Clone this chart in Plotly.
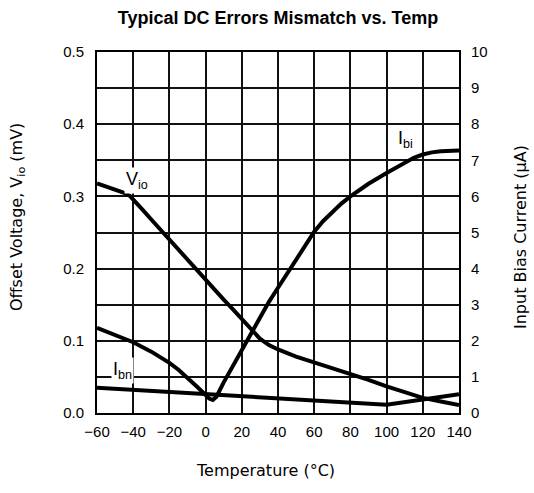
import plotly.graph_objects as go

# ---- data ----
vio_temp = [-60, -55, -50, -45, -42, -40, -35, -30, -25, -20, -15, -10, -5, 0, 5, 10, 15, 20, 25, 30,
            35, 40, 50, 60, 70, 80, 90, 100, 110, 120, 130, 140]
vio_mv = [0.318, 0.314, 0.310, 0.305, 0.301, 0.296, 0.282, 0.268, 0.254, 0.240, 0.226, 0.211, 0.197,
          0.183, 0.170, 0.157, 0.144, 0.131, 0.117, 0.103, 0.094, 0.088, 0.078, 0.070, 0.062, 0.055,
          0.046, 0.037, 0.029, 0.021, 0.016, 0.011]

ibi_temp = [-60, -50, -40, -30, -20, -15, -10, -5, 0, 2, 4, 6, 10, 15, 20, 25, 30, 35, 40, 45, 50, 55,
            60, 65, 70, 75, 80, 90, 100, 110, 115, 120, 125, 130, 140]
ibi_ua = [2.36, 2.17, 1.96, 1.70, 1.39, 1.20, 0.98, 0.74, 0.50, 0.40, 0.36, 0.45, 0.85, 1.30, 1.75,
          2.22, 2.66, 3.08, 3.47, 3.85, 4.22, 4.62, 5.02, 5.32, 5.57, 5.80, 6.00, 6.35, 6.65, 6.93,
          7.07, 7.16, 7.22, 7.25, 7.27]

ibn_temp = [-60, 100, 140]
ibn_ua = [0.70, 0.23, 0.52]

x_ticks = [-60, -40, -20, 0, 20, 40, 60, 80, 100, 120, 140]
left_ticks = [0.0, 0.1, 0.2, 0.3, 0.4, 0.5]
right_ticks = [0, 1, 2, 3, 4, 5, 6, 7, 8, 9, 10]

FONT = "Liberation Sans, Arial, sans-serif"
TITLEFONT = "DejaVu Sans, Liberation Sans, sans-serif"
W, H = 534, 493
L, R, T, B = 97, 75, 52, 80
PW, PH = W - L - R, H - T - B


def px(xp):
    return (xp - L) / PW


def py(yp):
    return (H - B - yp) / PH


fig = go.Figure()
line = dict(color="black", width=4)
fig.add_trace(go.Scatter(x=vio_temp, y=vio_mv, mode="lines", line=line, yaxis="y", showlegend=False))
fig.add_trace(go.Scatter(x=ibi_temp, y=ibi_ua, mode="lines", line=line, yaxis="y2", showlegend=False))
fig.add_trace(go.Scatter(x=ibn_temp, y=ibn_ua, mode="lines", line=line, yaxis="y2", showlegend=False))

fig.update_layout(
    width=W, height=H,
    margin=dict(l=L, r=R, t=T, b=B, autoexpand=False),
    paper_bgcolor="white", plot_bgcolor="white",
    font=dict(family=FONT, size=15, color="black"),
    title=dict(text="<b>Typical DC Errors Mismatch vs. Temp</b>", x=0.5, xref="paper",
               y=1 - 18 / H, yref="container", yanchor="middle", xanchor="center",
               font=dict(family=FONT, size=18, color="black")),
    xaxis=dict(range=[-60, 140], tickvals=x_ticks, showgrid=True, gridcolor="#111", gridwidth=1.5,
               showline=True, mirror=True, linecolor="black", linewidth=2, zeroline=False,
               ticks="", ticklabelstandoff=4, tickfont=dict(size=15)),
    yaxis=dict(range=[0, 0.5], tickvals=left_ticks, tickformat=".1f", showgrid=False,
               showline=True, mirror=True, linecolor="black", linewidth=2, zeroline=False,
               ticks="", ticklabelstandoff=8, tickfont=dict(size=15)),
    yaxis2=dict(range=[0, 10], tickvals=right_ticks, overlaying="y", side="right",
                showgrid=True, gridcolor="#111", gridwidth=1.5, zeroline=False,
                showline=False, ticks="", ticklabelstandoff=11, tickfont=dict(size=15)),
)

annos = [
    dict(text="Offset Voltage, V<sub>io</sub> (mV)", x=px(17), y=py(217), textangle=-90, size=16),
    dict(text="Input Bias Current (μA)", x=px(520), y=py(237), textangle=-90, size=16),
    dict(text="Temperature (°C)", x=px(265), y=py(470), textangle=0, size=16),
]
for a in annos:
    fig.add_annotation(text=a["text"], x=a["x"], y=a["y"], xref="paper", yref="paper",
                       showarrow=False, textangle=a["textangle"], xanchor="center", yanchor="middle",
                       font=dict(family=TITLEFONT, size=a["size"], color="black"))

labels = [
    ("V<sub>io</sub>", px(137), py(180)),
    ("I<sub>bi</sub>", px(405), py(139)),
    ("I<sub>bn</sub>", px(122), py(370)),
]
for txt, x, y in labels:
    fig.add_annotation(text=txt, x=x, y=y, xref="paper", yref="paper", showarrow=False,
                       xanchor="center", yanchor="middle", bgcolor="white", borderpad=1,
                       font=dict(family=FONT, size=18, color="black"))

fig.write_html("out.html", config={"displayModeBar": False},
               post_script="document.body.style.margin='0';")
